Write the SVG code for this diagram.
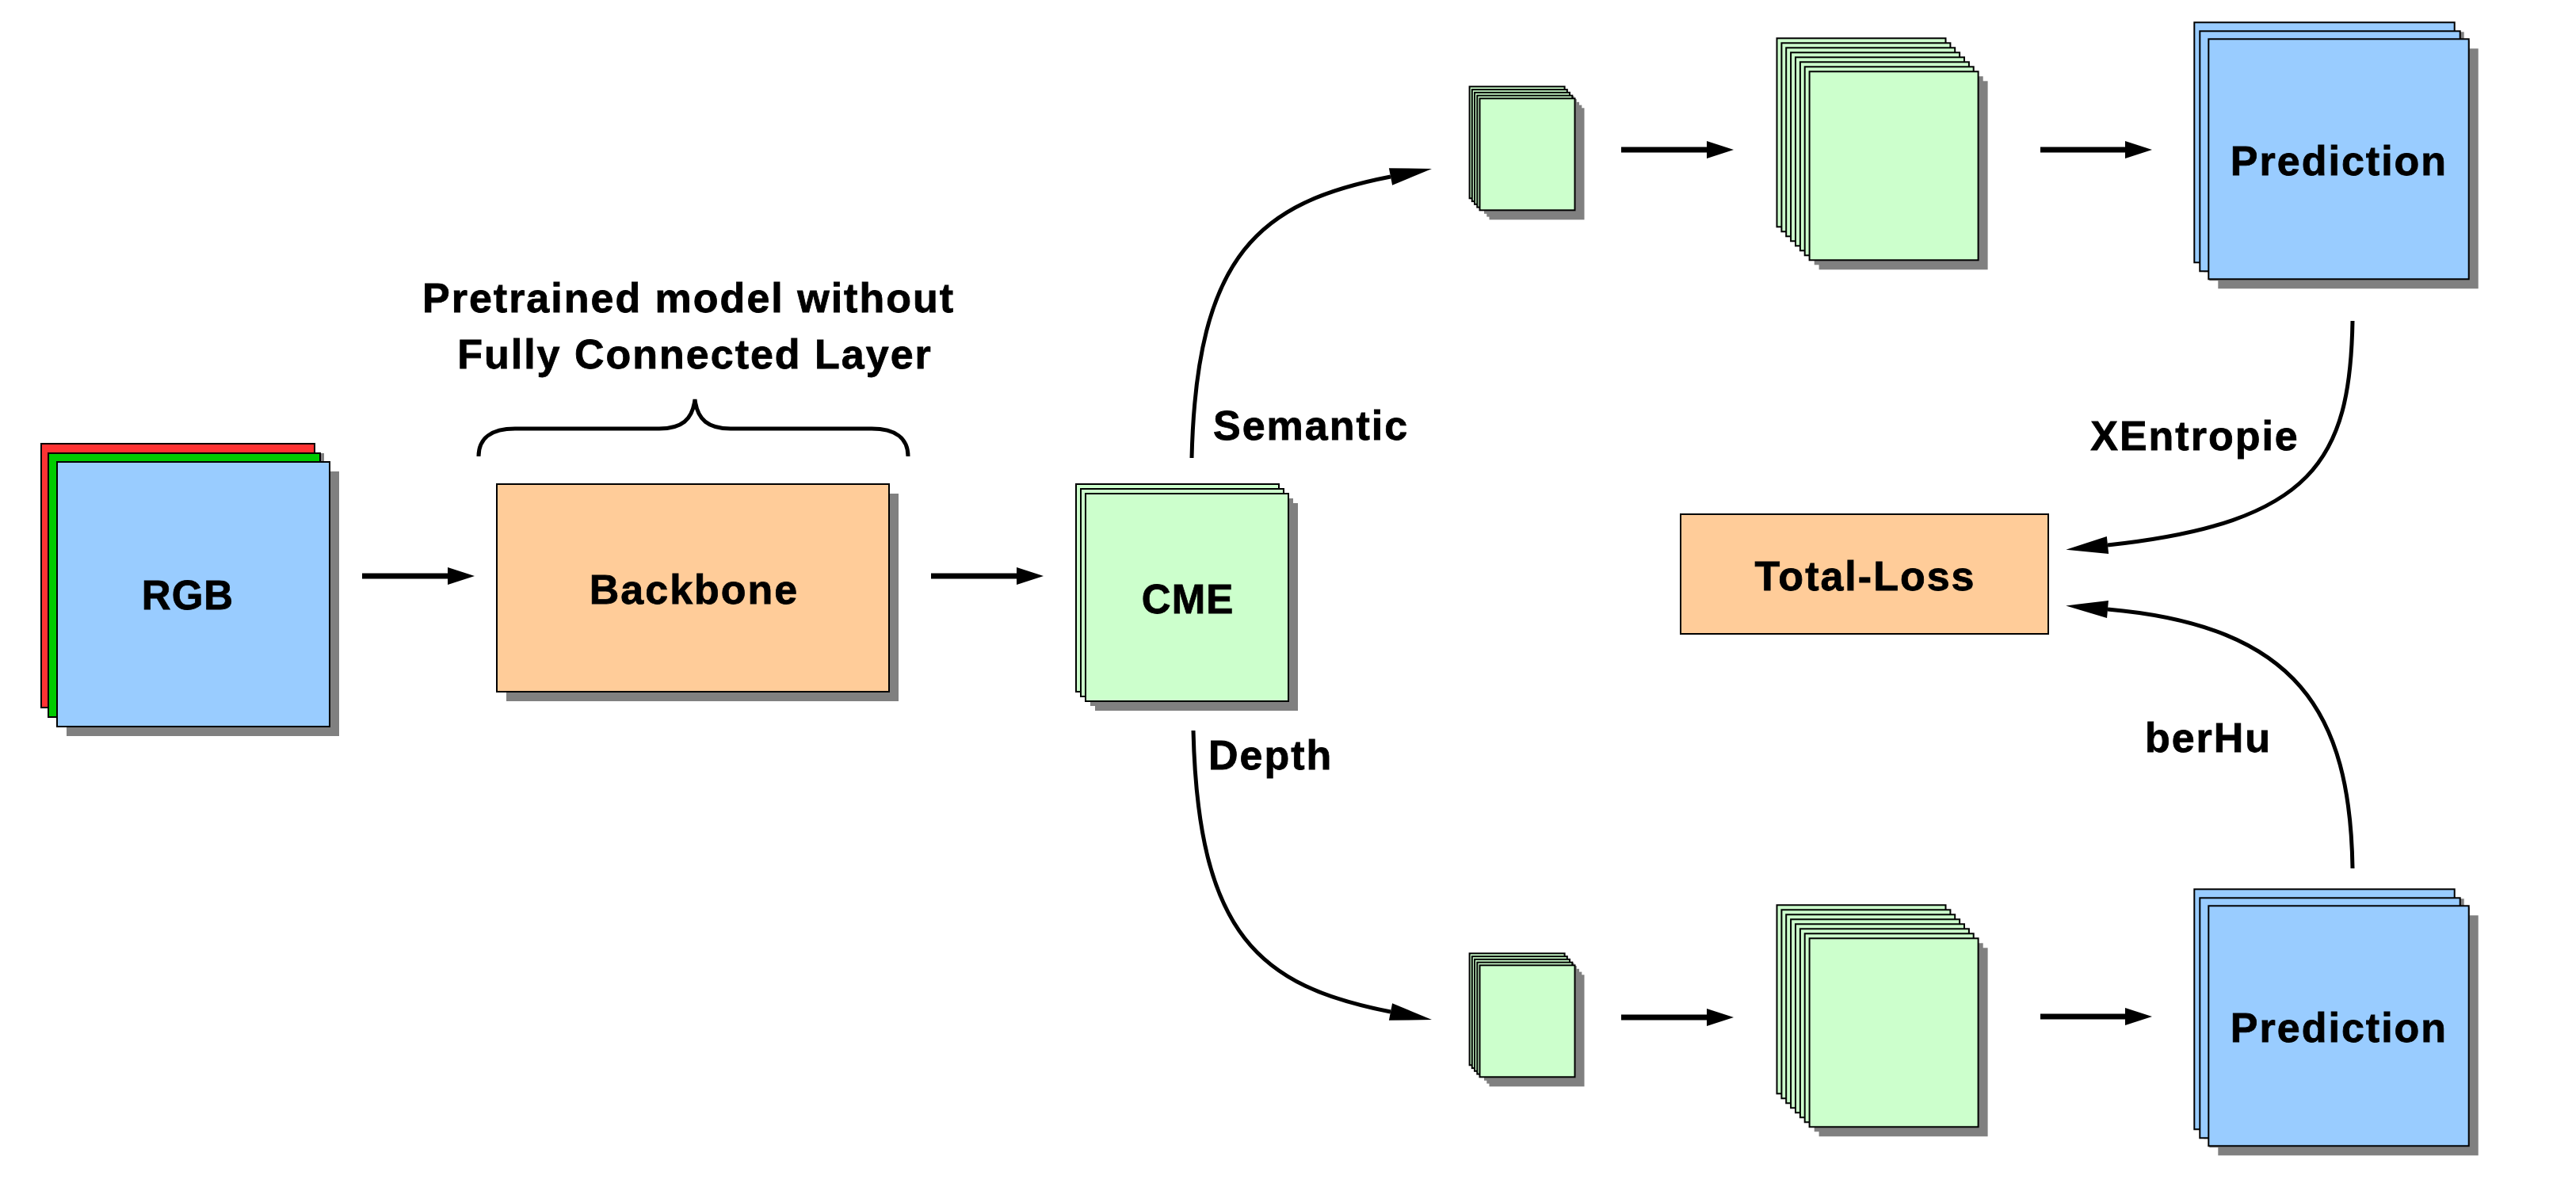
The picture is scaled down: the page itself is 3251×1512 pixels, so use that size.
<svg xmlns="http://www.w3.org/2000/svg" width="3251" height="1512" viewBox="0 0 3251 1512">
<style>
.sh{fill:#808080;stroke:none}
.bx{stroke:#000;stroke-width:2}
.blue{fill:#99ccff}
.green{fill:#ccffcc}
.orange{fill:#ffcc99}
.red{fill:#ff3333}
.grn{fill:#00cc00}
.t{font-family:"Liberation Sans",Arial,sans-serif;font-weight:bold;font-size:52px;letter-spacing:2px;fill:#000;stroke:#000;stroke-width:0.8px}
.c{text-anchor:middle}
.ln{fill:none;stroke:#000;stroke-width:7}
.cv{fill:none;stroke:#000;stroke-width:5}
</style>
<defs>
<marker id="hs" markerUnits="userSpaceOnUse" viewBox="0 -12 36 24" refX="0" refY="0" markerWidth="36" markerHeight="24" orient="auto" overflow="visible">
<path d="M0,-11 L34,0 L0,11 z" fill="#000"/>
</marker>
<marker id="hc" markerUnits="userSpaceOnUse" viewBox="0 -12 56 24" refX="0" refY="0" markerWidth="56" markerHeight="24" orient="auto" overflow="visible">
<path d="M0,-11 L53,0 L0,11 z" fill="#000"/>
</marker>
</defs>
<rect width="3251" height="1512" fill="#fff"/>

<g id="rgb">
<rect class="sh" x="64" y="572" width="345" height="333"/>
<rect class="bx red" x="52" y="560" width="345" height="333"/>
<rect class="sh" x="73" y="584" width="343" height="333"/>
<rect class="bx grn" x="61" y="572" width="343" height="333"/>
<rect class="sh" x="84" y="595" width="344" height="334"/>
<rect class="bx blue" x="72" y="583" width="344" height="334"/>
<text class="t c" x="237" y="769" style="font-size:51px;letter-spacing:1px">RGB</text>
</g>

<g id="pretrained-label">
<path d="M604,576 C604,553 620,541 650,541 L832,541 C860,541 874,530 877,504 C880,530 894,541 922,541 L1100,541 C1130,541 1146,553 1146,576" fill="none" stroke="#000" stroke-width="5"/>
<text class="t c" x="869" y="394">Pretrained model without</text>
<text class="t c" x="877" y="465">Fully Connected Layer</text>
</g>

<g id="backbone">
<rect class="sh" x="639" y="623" width="495" height="262"/>
<rect class="bx orange" x="627" y="611" width="495" height="262"/>
<text class="t c" x="876" y="762">Backbone</text>
</g>

<g id="cme">
<rect class="sh" x="1370" y="623" width="256" height="262"/>
<rect class="bx green" x="1358" y="611" width="256" height="262"/>
<rect class="sh" x="1376" y="629" width="256" height="262"/>
<rect class="bx green" x="1364" y="617" width="256" height="262"/>
<rect class="sh" x="1382" y="635" width="256" height="262"/>
<rect class="bx green" x="1370" y="623" width="256" height="262"/>
<text class="t c" x="1499" y="774" style="font-size:51px;letter-spacing:1px">CME</text>
</g>

<g id="sem-small">
<rect class="sh" x="1866.6" y="121.3" width="120" height="141"/>
<rect class="bx green" x="1854.6" y="109.3" width="120" height="141"/>
<rect class="sh" x="1869.8" y="125.1" width="120" height="141"/>
<rect class="bx green" x="1857.8" y="113.1" width="120" height="141"/>
<rect class="sh" x="1873" y="128.8" width="120" height="141"/>
<rect class="bx green" x="1861" y="116.8" width="120" height="141"/>
<rect class="sh" x="1876.3" y="132.6" width="120" height="141"/>
<rect class="bx green" x="1864.3" y="120.6" width="120" height="141"/>
<rect class="sh" x="1879.5" y="136.3" width="120" height="141"/>
<rect class="bx green" x="1867.5" y="124.3" width="120" height="141"/>
</g>

<g id="sem-big">
<rect class="sh" x="2254.5" y="60.3" width="213" height="238"/>
<rect class="bx green" x="2242.5" y="48.3" width="213" height="238"/>
<rect class="sh" x="2260.4" y="66.3" width="213" height="238"/>
<rect class="bx green" x="2248.4" y="54.3" width="213" height="238"/>
<rect class="sh" x="2266.2" y="72.3" width="213" height="238"/>
<rect class="bx green" x="2254.2" y="60.3" width="213" height="238"/>
<rect class="sh" x="2272.1" y="78.3" width="213" height="238"/>
<rect class="bx green" x="2260.1" y="66.3" width="213" height="238"/>
<rect class="sh" x="2278" y="84.3" width="213" height="238"/>
<rect class="bx green" x="2266" y="72.3" width="213" height="238"/>
<rect class="sh" x="2283.9" y="90.3" width="213" height="238"/>
<rect class="bx green" x="2271.9" y="78.3" width="213" height="238"/>
<rect class="sh" x="2289.7" y="96.3" width="213" height="238"/>
<rect class="bx green" x="2277.7" y="84.3" width="213" height="238"/>
<rect class="sh" x="2295.6" y="102.3" width="213" height="238"/>
<rect class="bx green" x="2283.6" y="90.3" width="213" height="238"/>
</g>

<g id="sem-prediction">
<rect class="sh" x="2781.3" y="40.3" width="328.4" height="303"/>
<rect class="bx blue" x="2769.3" y="28.3" width="328.4" height="303"/>
<rect class="sh" x="2788.3" y="51.3" width="328.4" height="303"/>
<rect class="bx blue" x="2776.3" y="39.3" width="328.4" height="303"/>
<rect class="sh" x="2799.3" y="61.3" width="328.4" height="303"/>
<rect class="bx blue" x="2787.3" y="49.3" width="328.4" height="303"/>
<text class="t c" x="2952" y="221">Prediction</text>
</g>

<g id="depth-small">
<rect class="sh" x="1866.6" y="1215.3" width="120" height="141"/>
<rect class="bx green" x="1854.6" y="1203.3" width="120" height="141"/>
<rect class="sh" x="1869.8" y="1219.1" width="120" height="141"/>
<rect class="bx green" x="1857.8" y="1207.1" width="120" height="141"/>
<rect class="sh" x="1873" y="1222.8" width="120" height="141"/>
<rect class="bx green" x="1861" y="1210.8" width="120" height="141"/>
<rect class="sh" x="1876.3" y="1226.6" width="120" height="141"/>
<rect class="bx green" x="1864.3" y="1214.6" width="120" height="141"/>
<rect class="sh" x="1879.5" y="1230.3" width="120" height="141"/>
<rect class="bx green" x="1867.5" y="1218.3" width="120" height="141"/>
</g>

<g id="depth-big">
<rect class="sh" x="2254.5" y="1154.3" width="213" height="238"/>
<rect class="bx green" x="2242.5" y="1142.3" width="213" height="238"/>
<rect class="sh" x="2260.4" y="1160.3" width="213" height="238"/>
<rect class="bx green" x="2248.4" y="1148.3" width="213" height="238"/>
<rect class="sh" x="2266.2" y="1166.3" width="213" height="238"/>
<rect class="bx green" x="2254.2" y="1154.3" width="213" height="238"/>
<rect class="sh" x="2272.1" y="1172.3" width="213" height="238"/>
<rect class="bx green" x="2260.1" y="1160.3" width="213" height="238"/>
<rect class="sh" x="2278" y="1178.3" width="213" height="238"/>
<rect class="bx green" x="2266" y="1166.3" width="213" height="238"/>
<rect class="sh" x="2283.9" y="1184.3" width="213" height="238"/>
<rect class="bx green" x="2271.9" y="1172.3" width="213" height="238"/>
<rect class="sh" x="2289.7" y="1190.3" width="213" height="238"/>
<rect class="bx green" x="2277.7" y="1178.3" width="213" height="238"/>
<rect class="sh" x="2295.6" y="1196.3" width="213" height="238"/>
<rect class="bx green" x="2283.6" y="1184.3" width="213" height="238"/>
</g>

<g id="depth-prediction">
<rect class="sh" x="2781.3" y="1134.3" width="328.4" height="303"/>
<rect class="bx blue" x="2769.3" y="1122.3" width="328.4" height="303"/>
<rect class="sh" x="2788.3" y="1145.3" width="328.4" height="303"/>
<rect class="bx blue" x="2776.3" y="1133.3" width="328.4" height="303"/>
<rect class="sh" x="2799.3" y="1155.3" width="328.4" height="303"/>
<rect class="bx blue" x="2787.3" y="1143.3" width="328.4" height="303"/>
<text class="t c" x="2952" y="1315">Prediction</text>
</g>

<g id="total-loss">
<rect class="bx orange" x="2121" y="649" width="464" height="151"/>
<text class="t c" x="2354" y="745">Total-Loss</text>
</g>

<g id="connectors">
<line class="ln" x1="457" y1="727" x2="565" y2="727" marker-end="url(#hs)"/>
<line class="ln" x1="1175" y1="727" x2="1283" y2="727" marker-end="url(#hs)"/>
<line class="ln" x1="2046" y1="189" x2="2154" y2="189" marker-end="url(#hs)"/>
<line class="ln" x1="2575" y1="189" x2="2682" y2="189" marker-end="url(#hs)"/>
<line class="ln" x1="2046" y1="1284" x2="2154" y2="1284" marker-end="url(#hs)"/>
<line class="ln" x1="2575" y1="1283" x2="2682" y2="1283" marker-end="url(#hs)"/>
<path class="cv" d="M1504,578 C1510,320 1590,255 1755,223" marker-end="url(#hc)"/>
<path class="cv" d="M1506,922 C1512,1180 1590,1245 1755,1277" marker-end="url(#hc)"/>
<path class="cv" d="M2969,405 C2966,580 2920,660 2660,688" marker-end="url(#hc)"/>
<path class="cv" d="M2969,1096 C2966,900 2900,790 2660,769" marker-end="url(#hc)"/>
<text class="t" x="1531" y="555">Semantic</text>
<text class="t" x="1525" y="971">Depth</text>
<text class="t c" x="2770" y="568">XEntropie</text>
<text class="t c" x="2787" y="949">berHu</text>
</g>
</svg>
